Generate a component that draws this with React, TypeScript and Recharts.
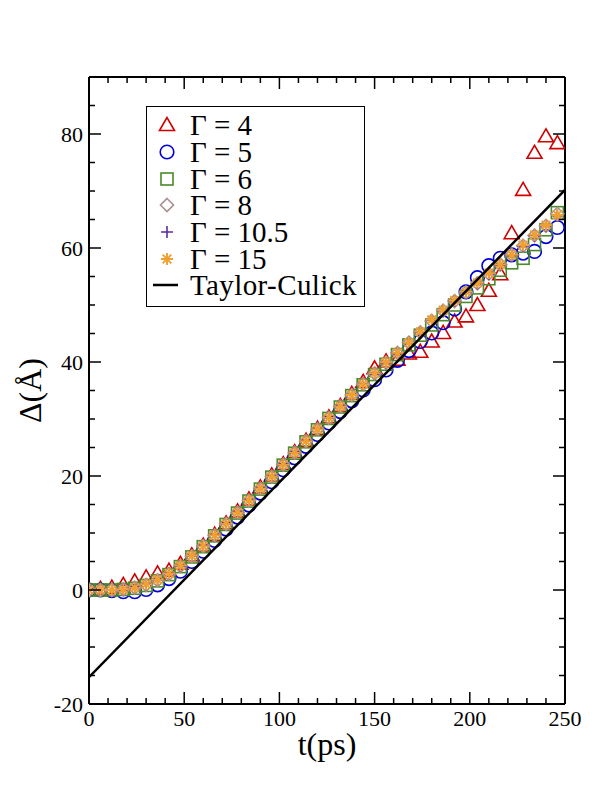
import React from 'react'
import { ScatterChart, Scatter, XAxis, YAxis, Legend } from 'recharts'

// sample times (ps)
const times = [
  0, 6, 12, 18, 24, 30, 36, 42, 48, 54, 60, 66, 72, 78, 84, 90, 96, 102, 108, 114, 120,
  126, 132, 138, 144, 150, 156, 162, 168, 174, 180, 186, 192, 198, 204, 210, 216, 222, 228, 234, 240, 246,
]

// Delta (Angstrom) for each Gamma
const gamma4 = [
  0, 0.2, 0.4, 0.9, 1.5, 2.2, 2.9, 3.4, 4.6, 6.1, 7.8, 9.7, 11.7, 13.8, 15.9, 18.0, 20.1, 22.1, 24.2, 26.2, 28.3,
  30.3, 32.3, 34.4, 36.5, 38.9, 40.1, 40.4, 41.5, 41.8, 43.6, 45.1, 47.1, 48.0, 50.0, 52.5, 55.4, 62.6, 70.2, 76.7, 79.6, 78.4,
]
const gamma5 = [
  0, 0, -0.1, -0.3, -0.3, 0.1, 0.9, 2.0, 3.3, 5.0, 6.8, 8.7, 10.7, 12.8, 14.9, 17.0, 19.0, 21.1, 23.2, 25.2, 27.3,
  29.3, 31.3, 33.2, 35.1, 36.9, 38.6, 40.3, 42.0, 43.6, 45.1, 46.9, 49.3, 52.3, 54.8, 56.9, 58.2, 58.8, 59.1, 59.4, 62.0, 63.6,
]
const gamma6 = [
  0, 0, 0, 0.1, 0.3, 0.8, 1.6, 2.7, 4.1, 5.8, 7.6, 9.5, 11.5, 13.5, 15.6, 17.7, 19.8, 21.9, 24.0, 26.0, 28.1,
  30.1, 32.1, 34.1, 36.0, 37.8, 39.6, 41.3, 43.0, 44.7, 46.5, 48.3, 50.0, 51.5, 53.0, 54.6, 56.1, 57.4, 58.2, 60.6, 63.2, 66.2,
]
const gamma8 = [
  0, 0, 0, 0.1, 0.4, 0.9, 1.7, 2.8, 4.2, 5.9, 7.7, 9.6, 11.6, 13.6, 15.7, 17.8, 19.9, 22.0, 24.1, 26.1, 28.2,
  30.2, 32.2, 34.2, 36.1, 38.0, 39.9, 41.6, 43.4, 45.2, 47.2, 49.0, 50.7, 52.2, 53.8, 55.5, 57.1, 58.8, 60.4, 62.2, 63.9, 66.0,
]
const gamma10_5 = [
  0, 0, 0, 0.1, 0.4, 1.0, 1.8, 2.9, 4.2, 6.0, 7.7, 9.6, 11.6, 13.6, 15.7, 17.8, 19.9, 22.0, 24.1, 26.1, 28.2,
  30.2, 32.2, 34.2, 36.1, 38.0, 39.8, 41.6, 43.4, 45.2, 47.3, 49.0, 50.7, 52.2, 53.8, 55.5, 57.0, 58.7, 60.4, 62.2, 63.9, 65.7,
]
const gamma15 = [
  0, 0, 0, 0.1, 0.4, 1.0, 1.8, 2.9, 4.3, 6.0, 7.7, 9.6, 11.6, 13.6, 15.7, 17.8, 19.9, 22.0, 24.1, 26.1, 28.2,
  30.2, 32.2, 34.2, 36.1, 38.0, 39.9, 41.6, 43.4, 45.3, 47.4, 49.1, 50.8, 52.3, 53.9, 55.6, 57.1, 58.8, 60.5, 62.3, 64.0, 65.8,
]

// Taylor-Culick straight line
const tcTimes = [0, 250]
const tcValues = [-15.3, 70.2]

const xMajorTicks = [0, 50, 100, 150, 200, 250]
const xMinorTicks = [10, 20, 30, 40, 60, 70, 80, 90, 110, 120, 130, 140, 160, 170, 180, 190, 210, 220, 230, 240]
const yMajorTicks = [-20, 0, 20, 40, 60, 80]
const yMinorTicks = [-15, -10, -5, 5, 10, 15, 25, 30, 35, 45, 50, 55, 65, 70, 75, 85]

const xTicks = [...xMajorTicks, ...xMinorTicks].sort((a, b) => a - b)
const yTicks = [...yMajorTicks, ...yMinorTicks].sort((a, b) => a - b)

const FONT = '"Liberation Serif", "Times New Roman", serif'

const toPoints = (vals: number[]) => times.map((t, i) => ({ t, v: vals[i] }))
const tcData = tcTimes.map((t, i) => ({ t, v: tcValues[i] }))

// marker shapes (open symbols like xmgrace)
const Triangle = ({ cx, cy, color }: any) => (
  <polygon points={`${cx},${cy - 7.5} ${cx - 7.5},${cy + 5.5} ${cx + 7.5},${cy + 5.5}`} fill="none" stroke={color} strokeWidth={1.6} />
)
const Circle = ({ cx, cy, color }: any) => <circle cx={cx} cy={cy} r={6.8} fill="none" stroke={color} strokeWidth={1.6} />
const Square = ({ cx, cy, color }: any) => (
  <rect x={cx - 6} y={cy - 6} width={12} height={12} fill="none" stroke={color} strokeWidth={1.6} />
)
const Diamond = ({ cx, cy, color }: any) => (
  <polygon points={`${cx},${cy - 6.5} ${cx + 6.5},${cy} ${cx},${cy + 6.5} ${cx - 6.5},${cy}`} fill="none" stroke={color} strokeWidth={1.6} />
)
const Plus = ({ cx, cy, color }: any) => (
  <path d={`M${cx - 6},${cy}H${cx + 6}M${cx},${cy - 6}V${cy + 6}`} stroke={color} strokeWidth={1.6} />
)
const Star = ({ cx, cy, color }: any) => (
  <path
    d={`M${cx - 6},${cy}H${cx + 6}M${cx},${cy - 6}V${cy + 6}M${cx - 4.3},${cy - 4.3}L${cx + 4.3},${cy + 4.3}M${cx - 4.3},${cy + 4.3}L${cx + 4.3},${cy - 4.3}`}
    stroke={color}
    strokeWidth={1.9}
  />
)

const series = [
  { name: 'Γ = 4', data: gamma4, color: '#d00000', Shape: Triangle },
  { name: 'Γ = 5', data: gamma5, color: '#0000d8', Shape: Circle },
  { name: 'Γ = 6', data: gamma6, color: '#4a8a2a', Shape: Square },
  { name: 'Γ = 8', data: gamma8, color: '#a89090', Shape: Diamond },
  { name: 'Γ = 10.5', data: gamma10_5, color: '#5a2ca0', Shape: Plus },
  { name: 'Γ = 15', data: gamma15, color: '#f0a030', Shape: Star },
]

const LeftTick = ({ x, y, payload }: any) => {
  const major = yMajorTicks.includes(payload.value)
  return (
    <g>
      <line x1={x} x2={x + (major ? 12 : 6)} y1={y} y2={y} stroke="#000" strokeWidth={1.5} />
      {major && (
        <text x={x - 6} y={y} dy="0.35em" textAnchor="end" fontSize={22} fontFamily={FONT} fill="#000">
          {payload.value}
        </text>
      )}
    </g>
  )
}
const RightTick = ({ x, y, payload }: any) => {
  const major = yMajorTicks.includes(payload.value)
  return <line x1={x} x2={x - (major ? 12 : 6)} y1={y} y2={y} stroke="#000" strokeWidth={1.5} />
}
const BottomTick = ({ x, y, payload }: any) => {
  const major = xMajorTicks.includes(payload.value)
  return (
    <g>
      <line x1={x} x2={x} y1={y} y2={y - (major ? 12 : 6)} stroke="#000" strokeWidth={1.5} />
      {major && (
        <text x={x} y={y + 22} textAnchor="middle" fontSize={22} fontFamily={FONT} fill="#000">
          {payload.value}
        </text>
      )}
    </g>
  )
}
const TopTick = ({ x, y, payload }: any) => {
  const major = xMajorTicks.includes(payload.value)
  return <line x1={x} x2={x} y1={y} y2={y + (major ? 12 : 6)} stroke="#000" strokeWidth={1.5} />
}

const LegendBox = () => (
  <div
    style={{
      border: '1px solid #000',
      background: '#fff',
      padding: '5px 0 7px 0',
      fontFamily: FONT,
      fontSize: 29,
      color: '#000',
      boxSizing: 'border-box',
      width: 219,
      height: 201,
    }}
  >
    {series.map(({ name, color, Shape }) => (
      <div key={name} style={{ display: 'flex', alignItems: 'center', height: 26.7 }}>
        <svg width={40} height={26} style={{ flex: 'none' }}>
          <Shape cx={20} cy={13} color={color} />
        </svg>
        <span style={{ marginLeft: 3, lineHeight: '26px' }}>{name}</span>
      </div>
    ))}
    <div style={{ display: 'flex', alignItems: 'center', height: 26.7 }}>
      <svg width={40} height={26} style={{ flex: 'none' }}>
        <line x1={6} x2={31} y1={13} y2={13} stroke="#000" strokeWidth={2.5} />
      </svg>
      <span style={{ marginLeft: 3, lineHeight: '26px', letterSpacing: 0.4 }}>Taylor-Culick</span>
    </div>
  </div>
)

const axisLine = { stroke: '#000', strokeWidth: 2 }

export default function App() {
  return (
    <div style={{ position: 'absolute', left: 0, top: 0, width: 612, height: 792, background: '#fff' }}>
      <ScatterChart width={612} height={792} margin={{ top: 67, right: 37, bottom: 28, left: 29 }}>
        <XAxis
          xAxisId="main"
          type="number"
          dataKey="t"
          domain={[0, 250]}
          ticks={xTicks}
          interval={0}
          height={60}
          tickSize={0}
          tickMargin={0}
          tickLine={false}
          axisLine={axisLine}
          tick={<BottomTick />}
          allowDataOverflow
          label={{
            content: ({ viewBox }: any) => (
              <text x={viewBox.x + viewBox.width / 2} y={viewBox.y + 51} textAnchor="middle" fontSize={32} fontFamily={FONT} fill="#000">
                t(ps)
              </text>
            ),
          }}
        />
        <XAxis
          xAxisId="top"
          orientation="top"
          type="number"
          dataKey="t"
          domain={[0, 250]}
          ticks={xTicks}
          interval={0}
          height={10}
          tickSize={0}
          tickMargin={0}
          tickLine={false}
          axisLine={axisLine}
          tick={<TopTick />}
          allowDataOverflow
        />
        <YAxis
          yAxisId="main"
          type="number"
          dataKey="v"
          domain={[-20, 90]}
          ticks={yTicks}
          interval={0}
          width={60}
          tickSize={0}
          tickMargin={0}
          tickLine={false}
          axisLine={axisLine}
          tick={<LeftTick />}
          allowDataOverflow
          label={{
            content: ({ viewBox }: any) => {
              const lx = viewBox.x + viewBox.width - 59
              const ly = viewBox.y + viewBox.height / 2
              return (
                <text
                  x={lx}
                  y={ly}
                  transform={`rotate(-90 ${lx} ${ly})`}
                  textAnchor="middle"
                  dy="0.35em"
                  fontSize={32}
                  fontFamily={FONT}
                  fill="#000"
                >
                  Δ(Å)
                </text>
              )
            },
          }}
        />
        <YAxis
          yAxisId="right"
          orientation="right"
          type="number"
          dataKey="v"
          domain={[-20, 90]}
          ticks={yTicks}
          interval={0}
          width={10}
          tickSize={0}
          tickMargin={0}
          tickLine={false}
          axisLine={axisLine}
          tick={<RightTick />}
          allowDataOverflow
        />
        <Legend verticalAlign="middle" align="center" layout="vertical" content={<LegendBox />} wrapperStyle={{ left: 146, top: 106, width: 219, height: 201 }} />
        {series.map(({ name, data, color, Shape }) => (
          <Scatter
            key={name}
            name={name}
            xAxisId="main"
            yAxisId="main"
            data={toPoints(data)}
            isAnimationActive={false}
            shape={(p: any) => <Shape cx={p.cx} cy={p.cy} color={color} />}
          />
        ))}
        <Scatter
          name="Taylor-Culick"
          xAxisId="main"
          yAxisId="main"
          data={tcData}
          isAnimationActive={false}
          line={{ stroke: '#000', strokeWidth: 2.5 }}
          shape={() => <g />}
        />
        <Scatter
          name="frame"
          xAxisId="top"
          yAxisId="right"
          data={tcData}
          isAnimationActive={false}
          legendType="none"
          shape={() => <g />}
        />
      </ScatterChart>
    </div>
  )
}
